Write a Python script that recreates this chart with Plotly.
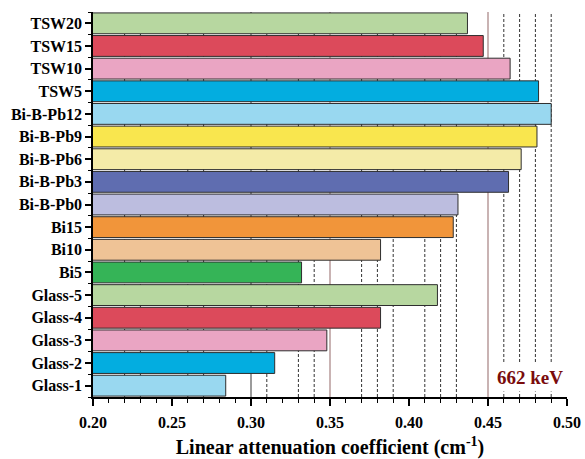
import plotly.graph_objects as go

# Samples listed bottom-to-top as they appear on the vertical axis
samples = [
    "Glass-1", "Glass-2", "Glass-3", "Glass-4", "Glass-5",
    "Bi5", "Bi10", "Bi15",
    "Bi-B-Pb0", "Bi-B-Pb3", "Bi-B-Pb6", "Bi-B-Pb9", "Bi-B-Pb12",
    "TSW5", "TSW10", "TSW15", "TSW20",
]

# Linear attenuation coefficient at 662 keV (cm^-1)
lac_662 = [
    0.284, 0.315, 0.348, 0.382, 0.418,
    0.332, 0.382, 0.428,
    0.431, 0.463, 0.471, 0.481, 0.490,
    0.482, 0.464, 0.447, 0.437,
]

bar_colors = [
    "#99d8f0", "#03ade0", "#eaa5c3", "#dc4a5b", "#b7d7a0",
    "#35b457", "#efc396", "#f1953a",
    "#bcbddf", "#5f6db0", "#f4eba8", "#f9e64e", "#99d8f0",
    "#03ade0", "#eaa5c3", "#dc4a5b", "#b7d7a0",
]

# Reference lines drawn behind the bars
dashed_grid = [0.22, 0.23, 0.26, 0.27, 0.31, 0.33, 0.34, 0.37, 0.38, 0.39,
               0.41, 0.42, 0.43, 0.46, 0.47, 0.48, 0.49]
solid_grid = {0.30: "#7a7a7a", 0.35: "#b79a9a", 0.45: "#b79a9a"}

FONT = "Liberation Serif"
positions = list(range(len(samples)))

fig = go.Figure(
    go.Bar(
        x=lac_662,
        y=positions,
        orientation="h",
        base=0,
        width=0.92,
        marker=dict(color=bar_colors, line=dict(color="#2e2e2e", width=1)),
        hoverinfo="x+text",
        text=samples,
        textposition="none",
    )
)

for gx in dashed_grid:
    fig.add_shape(type="line", x0=gx, x1=gx, y0=0, y1=1, xref="x", yref="paper",
                  line=dict(color="#333333", width=1, dash="3px,2px"), layer="below")
for gx, col in solid_grid.items():
    fig.add_shape(type="line", x0=gx, x1=gx, y0=0, y1=1, xref="x", yref="paper",
                  line=dict(color=col, width=1.5), layer="below")

fig.add_annotation(
    text="662 keV", x=1.0, y=0.05, xref="paper", yref="paper",
    xanchor="right", yanchor="middle", showarrow=False,
    bgcolor="white", borderpad=3,
    font=dict(family=FONT, size=19, color="#7a0c0c", weight="bold"),
)

fig.update_layout(
    width=585, height=459,
    margin=dict(l=93, r=18, t=12, b=62),
    paper_bgcolor="white", plot_bgcolor="white",
    showlegend=False,
    font=dict(family=FONT, color="black"),
)

fig.update_xaxes(
    automargin=False,
    range=[0.20, 0.50],
    tickvals=[0.20, 0.25, 0.30, 0.35, 0.40, 0.45, 0.50],
    ticktext=["0.20", "0.25", "0.30", "0.35", "0.40", "0.45", "0.50"],
    ticks="outside", ticklen=7, tickwidth=1.5, tickcolor="black",
    ticklabelstandoff=3,
    minor=dict(dtick=0.01, tick0=0.2, ticks="outside", ticklen=4,
               tickcolor="black", tickwidth=1, showgrid=False),
    showline=True, linecolor="black", linewidth=1.5,
    showgrid=False, zeroline=False,
    tickfont=dict(family=FONT, size=16, weight="bold"),
    title=dict(text="Linear attenuation coefficient (cm<sup>-1</sup>)",
               font=dict(family=FONT, size=20, weight="bold"), standoff=14),
)

fig.update_yaxes(
    automargin=False,
    range=[-0.5, len(samples) - 0.5],
    tickvals=positions, ticktext=samples,
    ticks="outside", ticklen=6, tickwidth=1.5, tickcolor="black",
    minor=dict(dtick=1, tick0=0.5, ticks="outside", ticklen=3,
               tickcolor="black", tickwidth=1, showgrid=False),
    showline=True, linecolor="black", linewidth=1.5,
    showgrid=False, zeroline=False,
    tickfont=dict(family=FONT, size=16, weight="bold"),
)

fig.write_html("out.html")
